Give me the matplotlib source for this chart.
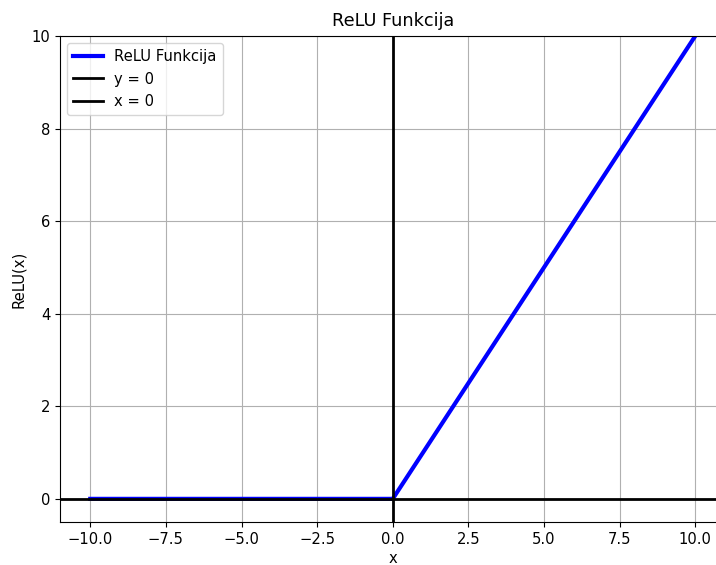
import matplotlib
matplotlib.use("Agg")
import matplotlib.pyplot as plt

x_vals = [-10.0, 0.0, 10.0]
relu_vals = [0.0, 0.0, 10.0]

s = 1.06
plt.rcParams['font.size'] = 10 * s
plt.rcParams['axes.titlesize'] = 12 * s
plt.rcParams['axes.labelsize'] = 10 * s

fig = plt.figure(figsize=(7.16, 5.65), dpi=100)
ax = fig.add_axes([60/716, 43/565, 665.5/716, 486/565])
ax.plot(x_vals, relu_vals, color='blue', linewidth=3, label='ReLU Funkcija')
ax.axhline(0, color='black', linewidth=2, label='y = 0')
ax.axvline(0, color='black', linewidth=2, label='x = 0')
ax.set_xlim(-11, 11)
ax.set_ylim(-0.5, 10)
ax.set_xticks([-10, -7.5, -5, -2.5, 0, 2.5, 5, 7.5, 10])
ax.set_yticks([0, 2, 4, 6, 8, 10])
ax.grid(True)
ax.set_title('ReLU Funkcija', pad=7)
ax.set_xlabel('x', labelpad=3)
ax.set_ylabel('ReLU(x)')
ax.legend(loc='upper left')
fig.savefig('out.png', dpi=100)
